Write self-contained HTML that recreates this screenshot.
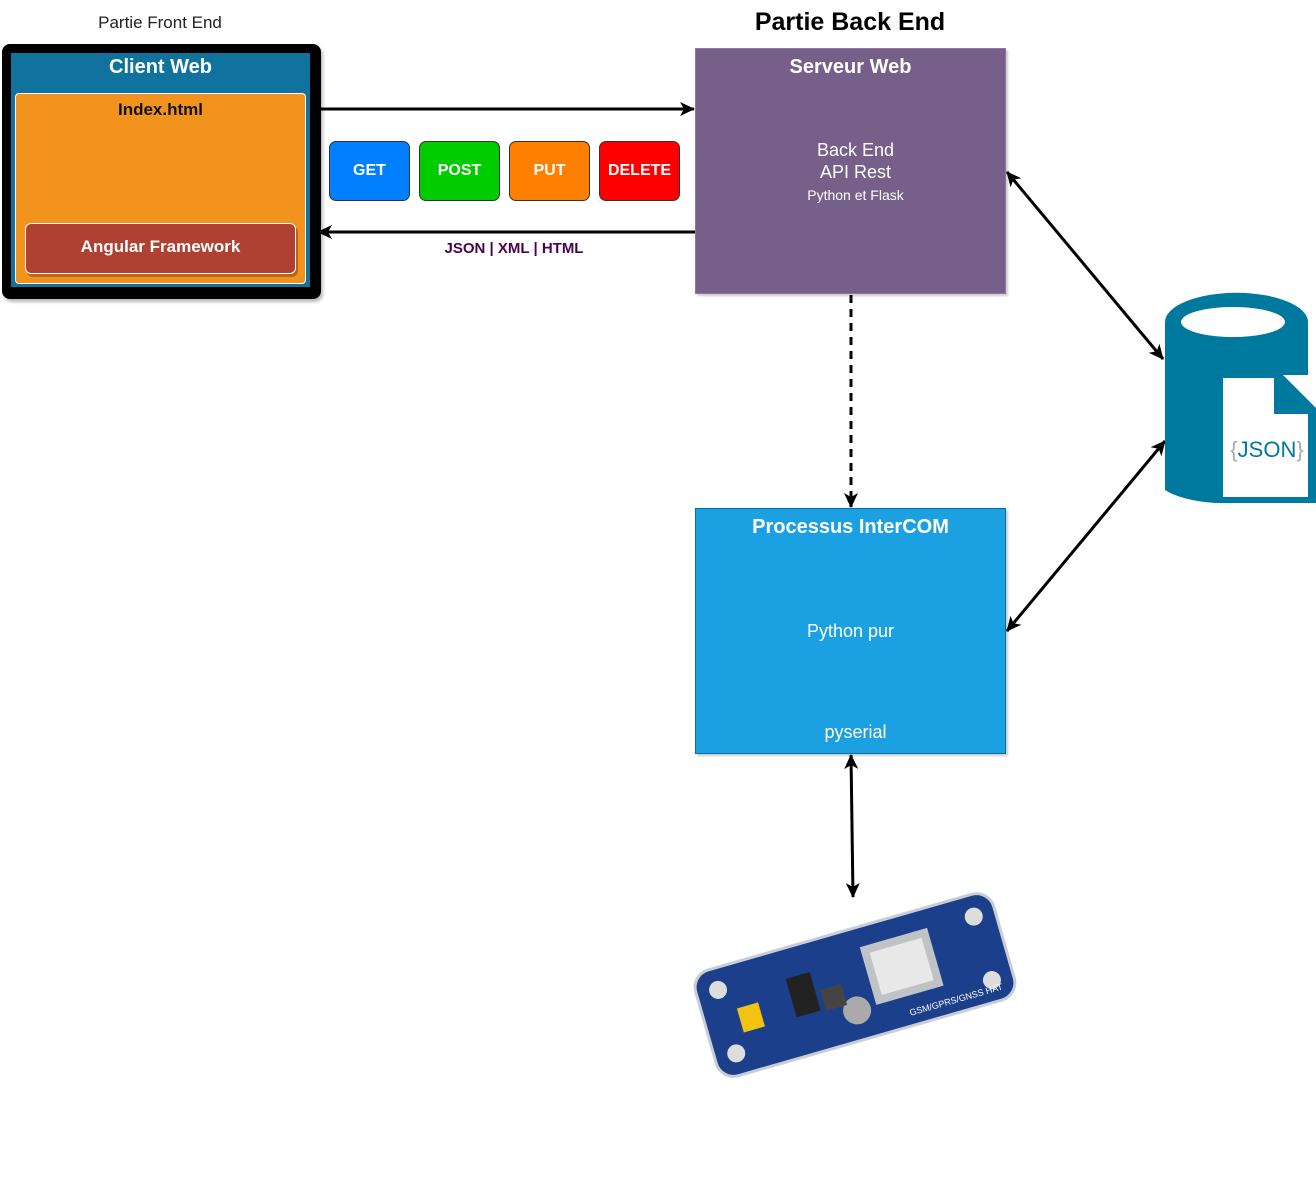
<!DOCTYPE html>
<html><head><meta charset="utf-8"><style>
body{margin:0;width:1316px;height:1179px;background:#fff;position:relative;overflow:hidden;font-family:"Liberation Sans",Arial,sans-serif}
.a{position:absolute;box-sizing:border-box}
.t{position:absolute;text-align:center}
</style></head><body>
<div class="t" style="left:60px;top:13px;width:200px;font-size:17px;color:#222">Partie Front End</div>
<div class="t" style="left:700px;top:8px;width:300px;font-size:25px;font-weight:bold;color:#000">Partie Back End</div>

<div class="a" style="left:2px;top:44px;width:319px;height:255px;background:#000;border-radius:8px;box-shadow:2px 3px 3px #bbb"></div>
<div class="a" style="left:11px;top:53px;width:299px;height:234px;background:#10739e"></div>
<div class="t" style="left:11px;top:56px;width:299px;font-size:20px;font-weight:bold;color:#fff">Client Web</div>
<div class="a" style="left:15px;top:93px;width:291px;height:191px;background:#f2931e;border:1px solid #fff;border-radius:4px"></div>
<div class="t" style="left:15px;top:100px;width:291px;font-size:17px;font-weight:bold;color:#111">Index.html</div>
<div class="a" style="left:25px;top:223px;width:271px;height:51px;background:#ae4132;border:1px solid #fff;border-radius:6px;box-shadow:2px 3px 0 #b8661e"></div>
<div class="t" style="left:25px;top:237px;width:271px;font-size:17px;font-weight:bold;color:#fff">Angular Framework</div>

<div class="a" style="left:329px;top:141px;width:81px;height:60px;background:#007fff;border:1px solid #333;border-radius:7px"></div>
<div class="t" style="left:329px;top:162px;width:81px;font-size:16px;font-weight:bold;color:#fff">GET</div>
<div class="a" style="left:419px;top:141px;width:81px;height:60px;background:#00cc00;border:1px solid #333;border-radius:7px"></div>
<div class="t" style="left:419px;top:162px;width:81px;font-size:16px;font-weight:bold;color:#fff">POST</div>
<div class="a" style="left:509px;top:141px;width:81px;height:60px;background:#ff8000;border:1px solid #333;border-radius:7px"></div>
<div class="t" style="left:509px;top:162px;width:81px;font-size:16px;font-weight:bold;color:#fff">PUT</div>
<div class="a" style="left:599px;top:141px;width:81px;height:60px;background:#ff0000;border:1px solid #333;border-radius:7px"></div>
<div class="t" style="left:599px;top:162px;width:81px;font-size:16px;font-weight:bold;color:#fff">DELETE</div>
<div class="t" style="left:414px;top:240px;width:200px;font-size:15px;font-weight:bold;color:#4c0050">JSON | XML | HTML</div>

<div class="a" style="left:695px;top:48px;width:311px;height:246px;background:#76608a;border:1px solid #9673a6;box-shadow:2px 2px 2px #ccc"></div>
<div class="t" style="left:695px;top:56px;width:311px;font-size:20px;font-weight:bold;color:#fff">Serveur Web</div>
<div class="t" style="left:700px;top:139px;width:311px;font-size:18px;color:#fff;line-height:22px">Back End<br>API Rest<br><span style="font-size:14px">Python et Flask</span></div>

<div class="a" style="left:695px;top:508px;width:311px;height:246px;background:#1ba1e2;border:1px solid #006eaf;box-shadow:2px 2px 2px #ccc"></div>
<div class="t" style="left:695px;top:516px;width:311px;font-size:20px;font-weight:bold;color:#fff">Processus InterCOM</div>
<div class="t" style="left:695px;top:621px;width:311px;font-size:18px;color:#fff">Python pur</div>
<div class="t" style="left:700px;top:722px;width:311px;font-size:18px;color:#fff">pyserial</div>

<svg class="a" style="left:0;top:0" width="1316" height="1179">
<defs><marker id="m" markerWidth="16" markerHeight="16" refX="14" refY="7" orient="auto-start-reverse" markerUnits="userSpaceOnUse" viewBox="0 0 16 14"><path d="M0,0 L15,7 L0,14 L4,7z" fill="#000"/></marker></defs>
<g stroke="#000" stroke-width="3" fill="none">
<line x1="320" y1="109" x2="694" y2="109" marker-end="url(#m)"/>
<line x1="695" y1="232" x2="318" y2="232" marker-end="url(#m)"/>
<line x1="851" y1="295" x2="851" y2="507" stroke-dasharray="8,6" marker-end="url(#m)"/>
<line x1="1007" y1="172" x2="1163" y2="359" marker-start="url(#m)" marker-end="url(#m)"/>
<line x1="1007" y1="631" x2="1165" y2="441" marker-start="url(#m)" marker-end="url(#m)"/>
<line x1="851" y1="755" x2="853" y2="897" marker-start="url(#m)" marker-end="url(#m)"/>
</g>
<path d="M1165,322 A71,29 0 0 1 1308,322 L1308,375 L1215,375 L1215,503 A71,25 0 0 1 1165,490z" fill="#00799e"/>
<ellipse cx="1233" cy="322" rx="52" ry="15" fill="#fff"/>
<path d="M1215,370 L1278,370 L1316,408 L1316,503 L1215,503z" fill="#00799e"/>
<path d="M1223,378 L1274,378 L1274,414 L1308,414 L1308,497 L1223,497z" fill="#fff"/>
<path d="M1281,378 L1281,408 L1308,408z" fill="#00799e"/>
<text x="1267" y="457" text-anchor="middle" font-family="Liberation Sans" font-size="22" fill="#00799e"><tspan fill="#aaa">{</tspan>JSON<tspan fill="#aaa">}</tspan></text>
<g transform="rotate(-16 855 985)">
<rect x="700" y="930" width="310" height="110" rx="18" fill="#1b3f8a" stroke="#c9ced6" stroke-width="3"/>
<circle cx="722" cy="952" r="9" fill="#ddd"/><circle cx="722" cy="1018" r="9" fill="#ddd"/>
<circle cx="988" cy="952" r="9" fill="#ddd"/><circle cx="988" cy="1018" r="9" fill="#ddd"/>
<rect x="870" y="950" width="70" height="60" fill="#bfc3c6"/>
<rect x="878" y="958" width="54" height="44" fill="#e8e8e8"/>
<rect x="790" y="960" width="25" height="40" fill="#222"/>
<rect x="735" y="975" width="22" height="25" fill="#f3c312"/>
<circle cx="850" cy="1010" r="14" fill="#aaa"/>
<rect x="820" y="980" width="22" height="22" fill="#444"/>
<text x="900" y="1030" font-size="9" fill="#fff" font-family="Liberation Sans">GSM/GPRS/GNSS HAT</text>
</g>
</svg>
</body></html>
